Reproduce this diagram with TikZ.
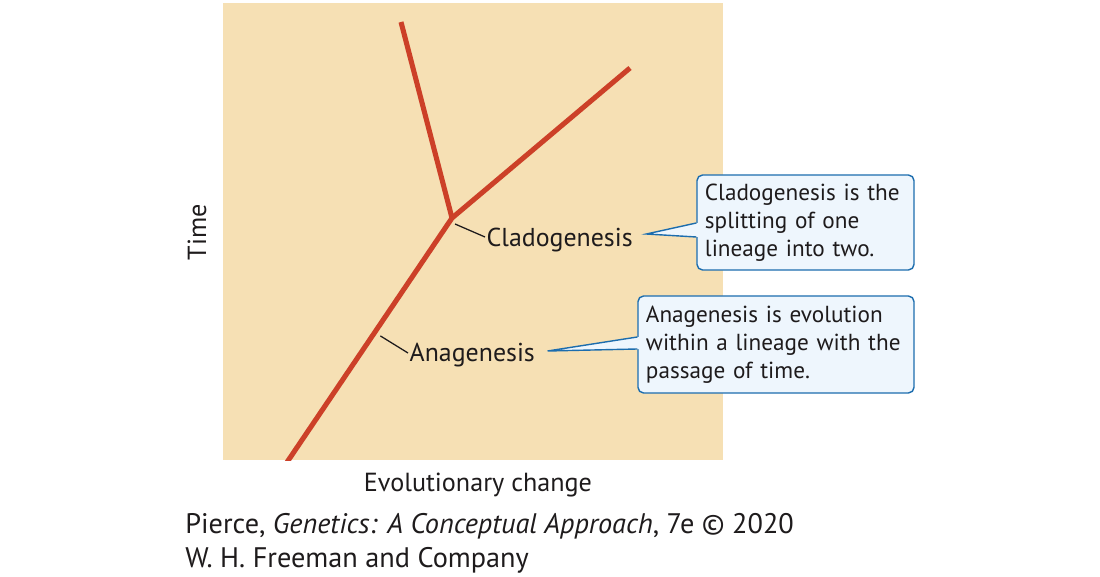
\documentclass[tikz,border=0pt]{standalone}
\usepackage{fontspec}
\setmainfont{PT Sans}
\definecolor{tanbg}{RGB}{246,224,180}
\definecolor{lineagered}{RGB}{204,64,40}
\definecolor{callblue}{RGB}{28,109,174}
\definecolor{callfill}{RGB}{238,246,253}
\definecolor{inkgray}{RGB}{30,27,28}
\usetikzlibrary{calc, positioning}

\begin{document}
\begin{tikzpicture}[x=0.025cm, y=-0.025cm,
  lineage/.style={draw=lineagered, line width=3.6pt},
  tick/.style={draw=inkgray, line width=0.9pt},
  lbl/.style={font=\fontsize{18.4}{21}\selectfont, text=inkgray, inner sep=1pt},
  axis/.style={font=\fontsize{18.6}{21}\selectfont, text=inkgray},
  credit/.style={font=\fontsize{20.1}{24}\selectfont, text=inkgray, anchor=west, inner sep=0pt},
  callout/.style={draw=callblue, fill=callfill, line width=1pt, rounded corners=4pt,
    align=left, inner xsep=0.2cm, font=\fontsize{16.5}{19.9}\selectfont, text=inkgray},
  pointer/.style={draw=callblue, line width=1pt},
]
\useasboundingbox (0,0) rectangle (1100,577);

% Background panel and lineages
\fill[tanbg] (223,3) rectangle (723,460);
\coordinate (base) at (275,480);
\coordinate (split) at (452,218);
\coordinate (lefttip) at (401,22);
\coordinate (righttip) at (630,68);
\begin{scope}
  \clip (223,3) rectangle (723,460);
  \draw[lineage] (base) -- (split) -- (lefttip);
  \draw[lineage] (split) -- (righttip);
\end{scope}
\coordinate (anapt) at ($(base)!0.55!(split)$);

% Labels on the tree
\node[lbl, anchor=west] (cladlbl) at (485,240) {Cladogenesis};
\node[lbl, anchor=west] (analbl) at (408,355) {Anagenesis};
\draw[tick] ($(split)+(3,6)$) -- ($(cladlbl.west)+(0,-3)$);
\draw[tick] ($(anapt)+(8,0)$) -- ($(analbl.west)+(0,-2)$);

% Callouts
\node[callout, text width=5.025cm, minimum height=2.375cm]
  (cladbox) at (805.5,222.5) {Cladogenesis is the\\ splitting of one\\ lineage into two.};
\node[callout, text width=6.5cm, minimum height=2.425cm]
  (anabox) at (776,344.5) {Anagenesis is evolution\\ within a lineage with the\\ passage of time.};
\coordinate (cladtip) at ($(cladlbl.east)+(12,-6)$);
\coordinate (anatip) at ($(analbl.east)+(11,-4)$);
\fill[callfill] ($(cladbox.west)+(2,0.5)$) -- (cladtip) -- ($(cladbox.west)+(2,14.5)$) -- cycle;
\draw[pointer] ($(cladbox.west)+(0,0.5)$) -- (cladtip) -- ($(cladbox.west)+(0,14.5)$);
\fill[callfill] ($(anabox.west)+(2,-7.5)$) -- (anatip) -- ($(anabox.west)+(2,4.5)$) -- cycle;
\draw[pointer] ($(anabox.west)+(0,-7.5)$) -- (anatip) -- ($(anabox.west)+(0,4.5)$);

% Axis labels
\node[axis, rotate=90] (timelbl) at (197,232) {Time};
\node[axis] (xlbl) at (478,485) {Evolutionary change};

% Credit line
\node[credit] (credit1) at (185,526) {Pierce, \textit{Genetics: A Conceptual Approach}, 7e © 2020};
\node[credit] (credit2) at (185,560) {W. H. Freeman and Company};
\end{tikzpicture}
\end{document}
